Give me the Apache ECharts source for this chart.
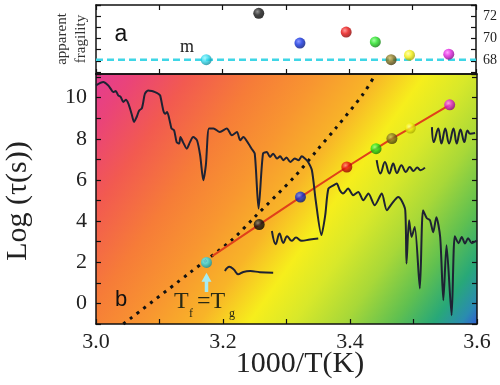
<!DOCTYPE html>
<html><head><meta charset="utf-8">
<script src="https://cdn.jsdelivr.net/npm/echarts@6/dist/echarts.min.js"></script>
<style>html,body{margin:0;padding:0;background:#fff}#c{width:500px;height:385px}</style>
</head><body><div id="c"></div>
<script>
// ---------------- data ----------------
const xTickLabels = ['3.0', '3.2', '3.4', '3.6'];
const yTickLabelsB = ['0', '2', '4', '6', '8', '10'];
const yTickLabelsA = ['68', '70', '72'];

// coloured balls (1000/T, log tau, apparent fragility)
const ballX = [3.174, 3.257, 3.322, 3.395, 3.441, 3.466, 3.495, 3.557];
const ballLogTau = [1.99, 3.83, 5.17, 6.63, 7.52, 8.01, 8.52, 9.65];
const ballFragility = [68.1, 72.3, 69.6, 70.6, 69.7, 68.1, 68.5, 68.6];
const mLevel = 68.1;

// red line through the balls
const fitX = [3.183, 3.257, 3.322, 3.395, 3.441, 3.466, 3.495, 3.557];
const fitY = [2.30, 3.83, 5.17, 6.63, 7.52, 8.01, 8.52, 9.65];

// dotted black curve
const dotX = [3.043, 3.146, 3.214, 3.250, 3.313, 3.348, 3.379, 3.421, 3.440];
const dotY = [-1.0, 1.45, 3.09, 4.20, 6.17, 7.44, 8.57, 10.19, 11.13];

// long black trace
const traceX = [3.000,3.0115,3.019,3.023,3.027,3.031,3.035,3.039,3.043,3.047,3.051,3.056,3.060,3.064,3.068,3.072,3.074,3.077,3.082,3.088,3.093,3.098,3.101,3.106,3.109,3.112,3.117,3.119,3.123,3.127,3.131,3.133,3.137,3.143,3.148,3.153,3.159,3.164,3.169,3.173,3.178,3.185,3.195,3.206,3.214,3.222,3.227,3.232,3.240,3.245,3.250,3.256,3.263,3.269,3.274,3.279,3.285,3.290,3.295,3.300,3.306,3.313,3.319,3.324,3.329,3.334,3.340,3.346,3.355,3.361,3.366,3.374,3.379,3.384,3.389,3.397,3.405,3.413,3.421,3.429,3.439,3.450,3.458,3.466,3.476,3.481,3.487,3.489,3.493,3.497,3.502,3.510,3.515,3.521,3.526,3.531,3.536,3.542,3.547,3.552,3.560,3.565,3.571,3.576,3.581,3.586,3.592,3.600];
const traceY = [10.60,10.76,10.60,10.44,10.27,10.32,10.11,10.03,9.79,9.90,9.71,9.22,8.82,9.06,9.38,9.47,9.71,10.19,10.35,10.32,10.27,10.19,10.11,9.38,9.22,9.30,8.74,8.50,8.41,7.84,7.77,8.09,7.84,7.52,7.84,8.09,7.93,7.20,5.99,6.72,8.50,8.50,8.33,8.50,8.17,8.33,7.93,8.09,7.77,7.52,7.28,4.61,7.28,7.36,7.12,7.28,7.04,7.15,6.96,7.09,6.87,7.04,6.96,7.15,7.04,6.87,6.47,5.01,3.32,4.29,5.58,5.74,5.83,5.50,5.34,5.58,5.26,5.42,5.01,5.34,4.77,5.34,4.53,4.85,5.17,5.01,4.53,1.94,4.04,3.23,3.72,0.73,4.53,4.14,4.04,3.46,4.19,3.23,0.16,2.83,-0.57,3.27,2.93,3.23,2.91,3.17,2.93,3.07];

// short wiggles
const w1X = [3.203, 3.210, 3.217, 3.224, 3.232, 3.243, 3.258, 3.279];
const w1Y = [1.58, 1.78, 1.65, 1.42, 1.53, 1.57, 1.52, 1.49];
const w2X = [3.277, 3.283, 3.289, 3.295, 3.301, 3.308, 3.315, 3.324, 3.337, 3.350];
const w2Y = [3.52, 2.88, 3.40, 2.94, 3.27, 3.04, 3.20, 3.04, 3.11, 3.16];
const w3X = [3.442, 3.448, 3.455, 3.462, 3.468, 3.474, 3.481, 3.488, 3.494, 3.500, 3.506, 3.511, 3.518];
const w3Y = [6.96, 6.31, 6.87, 6.31, 6.80, 6.34, 6.71, 6.39, 6.63, 6.44, 6.60, 6.47, 6.60];
const w4X = [3.529, 3.532, 3.539, 3.544, 3.550, 3.556, 3.563, 3.568, 3.574, 3.580, 3.585, 3.589, 3.597];
const w4Y = [8.57, 7.84, 8.50, 7.77, 8.50, 7.77, 8.50, 7.77, 8.45, 7.84, 8.41, 8.25, 8.28];

// Tf = Tg arrow
const arrowX = [3.174, 3.174];
const arrowY = [0.55, 1.27];

// ---------------- styles ----------------
const ballColors = [
  ['#8ff8ff', '#30d8ec', '#108898'],
  ['#777777', '#151515', '#000000'],
  ['#7080ff', '#1030e0', '#001070'],
  ['#ff8080', '#e81010', '#800000'],
  ['#90ff90', '#20e020', '#0a700a'],
  ['#c8b860', '#847420', '#3a3008'],
  ['#ffffa0', '#f4f010', '#a0a000'],
  ['#ff90ff', '#e020e0', '#800080']
];
function ballFill(c) {
  return {type: 'radial', x: 0.38, y: 0.35, r: 0.7,
    colorStops: [{offset: 0, color: c[0]}, {offset: 0.45, color: c[1]}, {offset: 1, color: c[2]}]};
}
const zip = (a, b) => a.map((v, i) => [v, b[i]]);
const SERIF = 'Liberation Serif';
const SANS = 'Liberation Sans';
const tick = {show: true, inside: true, length: 5, lineStyle: {color: '#111', width: 1.2}};
const line = {show: true, onZero: false, lineStyle: {color: '#111', width: 1.5}};

const chart = echarts.init(document.getElementById('c'), null, {renderer: 'canvas'});
const bg = {type: 'linear', global: true, x: 96, y: 74, x2: 467.6, y2: 337.2, colorStops: [
  {offset: 0.00, color: '#e43c92'},
  {offset: 0.07, color: '#ea4478'},
  {offset: 0.17, color: '#f25a50'},
  {offset: 0.29, color: '#f67c38'},
  {offset: 0.40, color: '#f89630'},
  {offset: 0.50, color: '#f8b428'},
  {offset: 0.59, color: '#f6ee1c'},
  {offset: 0.67, color: '#d8e82a'},
  {offset: 0.76, color: '#a8d838'},
  {offset: 0.85, color: '#60c050'},
  {offset: 0.92, color: '#28a878'},
  {offset: 0.97, color: '#2a8cb0'},
  {offset: 1.00, color: '#3060d0'}
]};

const option = {
  animation: false,
  backgroundColor: '#fff',
  grid: [
    {left: 96, top: 5, width: 381, height: 69, show: false},
    {left: 96, top: 74, width: 381, height: 250, show: true, backgroundColor: bg, borderWidth: 0}
  ],
  xAxis: [
    {type: 'value', gridIndex: 0, position: 'bottom', min: 3.0, max: 3.6, interval: 0.1,
      axisLine: line, axisTick: tick, axisLabel: {show: false}, splitLine: {show: false}},
    {type: 'value', gridIndex: 0, position: 'top', min: 3.0, max: 3.6, interval: 0.1,
      axisLine: line, axisTick: tick, axisLabel: {show: false}, splitLine: {show: false}},
    {type: 'value', gridIndex: 1, position: 'bottom', min: 3.0, max: 3.6, interval: 0.1,
      axisLine: line, axisTick: tick, splitLine: {show: false},
      axisLabel: {show: true, margin: 7, fontFamily: SERIF, fontSize: 22, color: '#222',
        formatter: v => xTickLabels.includes(v.toFixed(1)) ? v.toFixed(1) : ''}},
    {type: 'value', gridIndex: 1, position: 'top', min: 3.0, max: 3.6, interval: 0.1,
      axisLine: line, axisTick: {show: false}, axisLabel: {show: false}, splitLine: {show: false}}
  ],
  yAxis: [
    {type: 'value', gridIndex: 0, position: 'left', min: 66.8, max: 73.05, splitNumber: 5,
      axisLine: line, axisTick: tick, axisLabel: {show: false}, splitLine: {show: false}},
    {type: 'value', gridIndex: 0, position: 'right', min: 66.8, max: 73.05, splitNumber: 5,
      axisLine: line, axisTick: tick, splitLine: {show: false},
      axisLabel: {show: true, margin: 7, fontFamily: SERIF, fontSize: 14, color: '#222',
        formatter: v => yTickLabelsA.includes(String(v)) ? String(v) : ''}},
    {type: 'value', gridIndex: 1, position: 'left', min: -1, max: 11.15, interval: 1,
      axisLine: line, axisTick: tick, splitLine: {show: false},
      axisLabel: {show: true, margin: 9, fontFamily: SERIF, fontSize: 22, color: '#222',
        formatter: v => yTickLabelsB.includes(String(v)) ? String(v) : ''}},
    {type: 'value', gridIndex: 1, position: 'right', min: -1, max: 11.15, interval: 1,
      axisLine: line, axisTick: tick, axisLabel: {show: false}, splitLine: {show: false}}
  ],
  series: [
    // panel a
    {type: 'line', xAxisIndex: 0, yAxisIndex: 0, symbol: 'none', silent: true,
      data: [[3.0, mLevel], [3.6, mLevel]],
      lineStyle: {color: '#3fd6e6', width: 2.5, type: [7, 4]}, z: 2},
    {type: 'scatter', xAxisIndex: 0, yAxisIndex: 0, symbolSize: 11, z: 5,
      data: ballX.map((x, i) => ({value: [x, ballFragility[i]], itemStyle: {color: ballFill(ballColors[i])}}))},
    // panel b
    {type: 'line', xAxisIndex: 2, yAxisIndex: 2, symbol: 'none', smooth: 0.3, silent: true,
      data: zip(dotX, dotY), lineStyle: {color: '#111', width: 3, type: [3, 5.5]}, z: 2},
    {type: 'line', xAxisIndex: 2, yAxisIndex: 2, symbol: 'none', silent: true,
      data: zip(fitX, fitY), lineStyle: {color: '#e0401a', width: 2}, z: 3},
    {type: 'line', xAxisIndex: 2, yAxisIndex: 2, symbol: 'none', smooth: 0.25, silent: true,
      data: zip(traceX, traceY), lineStyle: {color: '#1e2233', width: 2}, z: 3},
    {type: 'line', xAxisIndex: 2, yAxisIndex: 2, symbol: 'none', smooth: 0.4, silent: true,
      data: zip(w1X, w1Y), lineStyle: {color: '#1e2233', width: 2}, z: 3},
    {type: 'line', xAxisIndex: 2, yAxisIndex: 2, symbol: 'none', smooth: 0.4, silent: true,
      data: zip(w2X, w2Y), lineStyle: {color: '#1e2233', width: 2}, z: 3},
    {type: 'line', xAxisIndex: 2, yAxisIndex: 2, symbol: 'none', smooth: 0.4, silent: true,
      data: zip(w3X, w3Y), lineStyle: {color: '#1e2233', width: 2}, z: 3},
    {type: 'line', xAxisIndex: 2, yAxisIndex: 2, symbol: 'none', smooth: 0.4, silent: true,
      data: zip(w4X, w4Y), lineStyle: {color: '#1e2233', width: 2}, z: 3},
    {type: 'line', xAxisIndex: 2, yAxisIndex: 2, silent: true, showSymbol: true,
      data: [{value: [arrowX[0], arrowY[0]], symbol: 'none'},
             {value: [arrowX[1], arrowY[1]], symbol: 'triangle', symbolSize: [10, 9]}],
      lineStyle: {color: '#a6ecf2', width: 3.5}, itemStyle: {color: '#a6ecf2'}, z: 4},
    {type: 'scatter', xAxisIndex: 2, yAxisIndex: 2, symbolSize: 11, z: 5,
      data: ballX.map((x, i) => ({value: [x, ballLogTau[i]], itemStyle: {color: ballFill(ballColors[i])}}))}
  ],
  graphic: [
    {type: 'text', x: 72, y: 39, rotation: Math.PI / 2, z: 10,
      style: {text: 'apparent\nfragility', font: '15px ' + SERIF, fill: '#333', lineHeight: 19,
        align: 'center', verticalAlign: 'middle', textAlign: 'center', textVerticalAlign: 'middle'}},
    {type: 'text', x: 121, y: 35, z: 10,
      style: {text: 'a', font: '23px ' + SANS, fill: '#111', align: 'center', verticalAlign: 'middle', textAlign: 'center', textVerticalAlign: 'middle'}},
    {type: 'text', x: 187, y: 47, z: 10,
      style: {text: 'm', font: '18px ' + SERIF, fill: '#222', align: 'center', verticalAlign: 'middle', textAlign: 'center', textVerticalAlign: 'middle'}},
    {type: 'text', x: 121, y: 300, z: 10,
      style: {text: 'b', font: '22px ' + SANS, fill: '#111', align: 'center', verticalAlign: 'middle', textAlign: 'center', textVerticalAlign: 'middle'}},
    {type: 'text', x: 18, y: 201, rotation: Math.PI / 2, z: 10,
      style: {text: 'Log (\u03c4(s))', font: '30px ' + SERIF, fill: '#222', align: 'center', verticalAlign: 'middle', textAlign: 'center', textVerticalAlign: 'middle'}},
    {type: 'text', x: 300, y: 364, z: 10,
      style: {text: '1000/T(K)', font: '30px ' + SERIF, fill: '#222', align: 'center', verticalAlign: 'middle', textAlign: 'center', textVerticalAlign: 'middle'}},
    {type: 'text', x: 174, y: 302, z: 10,
      style: {text: 'T', font: '24px ' + SERIF, fill: '#2a2a14', align: 'left', verticalAlign: 'middle', textAlign: 'left', textVerticalAlign: 'middle'}},
    {type: 'text', x: 189, y: 314, z: 10,
      style: {text: 'f', font: '12px ' + SERIF, fill: '#2a2a14', align: 'left', verticalAlign: 'middle', textAlign: 'left', textVerticalAlign: 'middle'}},
    {type: 'text', x: 197, y: 302, z: 10,
      style: {text: '=T', font: '24px ' + SERIF, fill: '#2a2a14', align: 'left', verticalAlign: 'middle', textAlign: 'left', textVerticalAlign: 'middle'}},
    {type: 'text', x: 229, y: 314, z: 10,
      style: {text: 'g', font: '12px ' + SERIF, fill: '#2a2a14', align: 'left', verticalAlign: 'middle', textAlign: 'left', textVerticalAlign: 'middle'}}
  ]
};
chart.setOption(option);
</script>
</body></html>
